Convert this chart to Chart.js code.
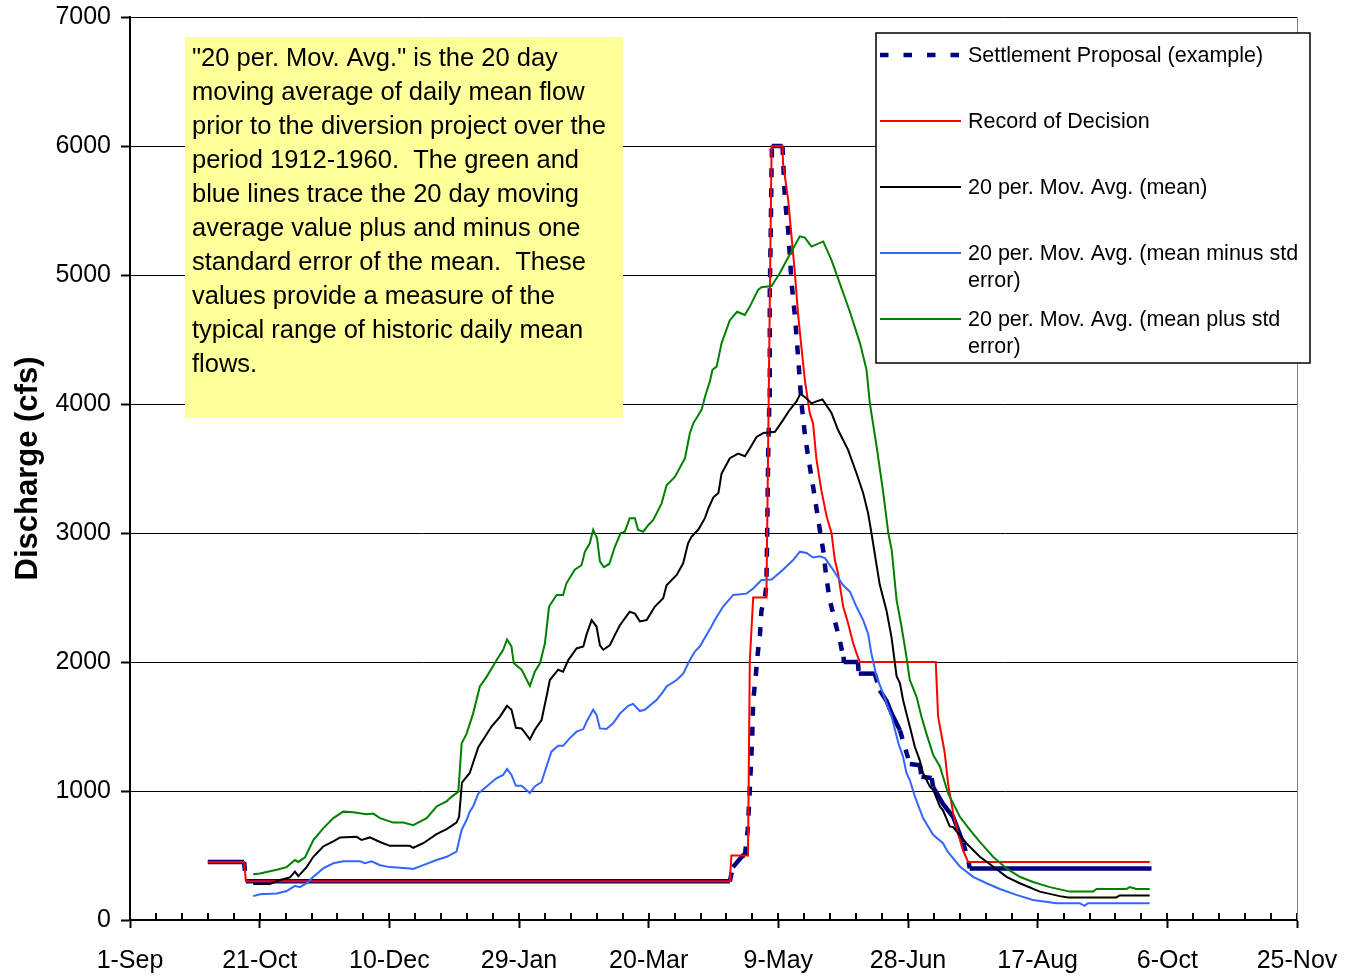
<!DOCTYPE html>
<html lang="en">
<head>
    <meta charset="UTF-8">
    <title>Discharge - 20 day moving average</title>
    <script src="https://cdn.jsdelivr.net/npm/chart.js"></script>
    <style>
        body { margin: 0; background: #fff; }
        #wrap { width: 1345px; height: 977px; }
    </style>
</head>
<body>
    <div id="wrap"><canvas id="flowChart" width="1345" height="977"></canvas></div>

    <script>
        // x = days after 1-Sep, y = discharge in cfs
        const tickLabels = ["1-Sep", "21-Oct", "10-Dec", "29-Jan", "20-Mar", "9-May", "28-Jun", "17-Aug", "6-Oct", "25-Nov"];

        const seriesNames = [
            "Settlement Proposal (example)",
            "Record of Decision",
            "20 per. Mov. Avg. (mean)",
            "20 per. Mov. Avg. (mean minus std error)",
            "20 per. Mov. Avg. (mean plus std error)"
        ];

        const settlement = [
            [30, 450], [44, 450], [44.7, 300], [231.3, 300], [232.5, 410], [236.3, 500], [237.1, 500],
            [238.2, 700], [239.0, 1010], [239.9, 1400], [240.3, 1700], [241.3, 1890], [241.8, 2020],
            [242.9, 2210], [243.5, 2400], [244.9, 2510], [245.4, 2600], [245.7, 3000], [246.1, 3620],
            [246.5, 3980], [246.7, 4870], [247.1, 5360], [247.4, 5870], [247.5, 6000], [251.6, 6000],
            [252.5, 5610], [253.2, 5450], [253.8, 5350], [255.1, 4940], [256.4, 4680], [257.6, 4370],
            [258.9, 4010], [260.2, 3770], [261.5, 3590], [263.4, 3360], [265.4, 3100], [266.6, 2950],
            [267.5, 2840], [268.3, 2690], [269.8, 2480], [271.1, 2380], [272.4, 2270], [273.7, 2170],
            [275.0, 2040], [275.2, 2000], [280.7, 2000], [281.0, 1910], [287.2, 1910], [289.1, 1780],
            [291.7, 1700], [293.7, 1600], [296.9, 1470], [298.8, 1340], [300.7, 1210], [304.6, 1200],
            [305.2, 1110], [309.1, 1100], [309.7, 1030], [313.5, 900], [317.4, 800], [319.3, 700],
            [321.2, 600], [323.2, 470], [323.8, 400], [393.9, 400]
        ];

        const recordOfDecision = [
            [30, 450], [44, 450], [44.7, 300], [231.3, 300], [231.9, 500], [238.3, 500], [239.0, 2010],
            [240.3, 2500], [245.4, 2500], [247.4, 6000], [251.6, 6000], [251.8, 5870], [253.8, 5580],
            [255.1, 5300], [256.4, 5010], [257.6, 4700], [258.9, 4440], [260.2, 4190], [262.1, 3930],
            [263.4, 3850], [264.7, 3570], [266.6, 3330], [268.6, 3130], [270.5, 3000], [271.8, 2790],
            [273.0, 2690], [275.0, 2430], [276.9, 2300], [278.8, 2150], [280.1, 2070], [281.4, 2000],
            [310.7, 2000], [311.6, 1580], [312.3, 1500], [313.5, 1370], [314.2, 1290], [315.5, 1050],
            [317.4, 830], [319.3, 670], [321.2, 540], [323.2, 450], [393.2, 450]
        ];

        const meanFlow = [
            [47.5, 280], [54.0, 280], [57.8, 310], [61.7, 330], [63.6, 375], [64.9, 340], [68.1, 410],
            [70.7, 490], [74.5, 570], [78.4, 610], [81.0, 640], [87.4, 645], [89.3, 620], [92.5, 640],
            [96.4, 605], [100.2, 575], [107.9, 575], [109.2, 560], [113.1, 595], [118.2, 665], [122.1, 705],
            [125.9, 755], [126.9, 800], [128.0, 1065], [131.0, 1140], [134.3, 1340], [136.9, 1420],
            [139.4, 1500], [142.6, 1575], [145.4, 1660], [147.1, 1630], [148.8, 1490], [151.0, 1485],
            [154.2, 1400], [156.1, 1475], [158.7, 1550], [160.6, 1730], [161.9, 1860], [165.1, 1940],
            [167.0, 1925], [169.0, 2015], [172.2, 2105], [174.8, 2120], [176.0, 2210], [178.0, 2325],
            [179.9, 2275], [181.2, 2130], [182.5, 2095], [185.0, 2130], [187.0, 2210], [188.9, 2285],
            [192.7, 2390], [194.7, 2375], [196.6, 2315], [199.2, 2325], [202.4, 2430], [205.6, 2495],
            [206.9, 2595], [210.8, 2675], [213.3, 2765], [215.2, 2920], [216.5, 2970], [219.1, 3025],
            [221.7, 3115], [223.0, 3190], [224.9, 3275], [226.9, 3310], [228.1, 3460], [231.3, 3580],
            [234.5, 3615], [237.1, 3595], [239.0, 3655], [241.6, 3745], [244.2, 3775], [248.7, 3785],
            [251.8, 3875], [254.4, 3955], [257.0, 4020], [258.5, 4080], [260.8, 4045], [262.8, 4005],
            [264.7, 4020], [267.0, 4035], [270.5, 3930], [273.0, 3800], [276.9, 3645], [280.1, 3465],
            [282.7, 3310], [284.6, 3155], [285.9, 3000], [289.1, 2600], [291.7, 2400], [293.7, 2185],
            [295.6, 1890], [296.9, 1835], [298.1, 1705], [299.4, 1600], [300.7, 1500], [302.6, 1345],
            [304.5, 1240], [305.8, 1140], [308.4, 1035], [309.7, 1010], [312.3, 880], [313.5, 850],
            [316.1, 725], [317.4, 720], [322.5, 595], [327.7, 490], [332.8, 415], [338.0, 335],
            [343.1, 285], [350.8, 220], [358.5, 185], [361.7, 175], [380.3, 175], [381.6, 190], [393.2, 190]
        ];

        const meanMinusSE = [
            [47.5, 185], [50.1, 200], [56.6, 205], [60.4, 225], [63.6, 265], [65.5, 255], [68.1, 285],
            [70.7, 335], [74.5, 400], [78.4, 440], [82.2, 455], [88.7, 455], [90.6, 440], [93.2, 455],
            [96.4, 425], [100.2, 410], [107.9, 400], [109.2, 395], [113.1, 425], [118.2, 465], [122.1, 490],
            [125.9, 530], [127.9, 700], [129.8, 775], [131.0, 840], [132.3, 880], [134.3, 980], [137.5, 1035],
            [141.4, 1100], [143.9, 1125], [145.4, 1170], [147.1, 1125], [148.8, 1040], [151.0, 1040],
            [154.2, 985], [156.1, 1035], [158.7, 1070], [160.6, 1190], [162.5, 1305], [165.1, 1350],
            [167.0, 1350], [169.6, 1410], [172.2, 1460], [174.8, 1480], [176.0, 1535], [178.6, 1630],
            [179.9, 1590], [181.2, 1485], [183.7, 1480], [186.3, 1525], [188.9, 1600], [192.1, 1660],
            [194.0, 1675], [196.6, 1620], [198.5, 1630], [203.0, 1705], [205.6, 1770], [206.9, 1810],
            [210.8, 1860], [213.3, 1910], [215.9, 2015], [217.8, 2080], [219.7, 2120], [224.2, 2275],
            [225.5, 2325], [228.7, 2430], [232.6, 2520], [237.7, 2530], [240.3, 2570], [243.5, 2635],
            [247.4, 2640], [251.8, 2715], [255.7, 2790], [258.3, 2855], [260.9, 2845], [263.4, 2810],
            [266.0, 2820], [268.0, 2805], [271.1, 2715], [275.0, 2595], [277.6, 2545], [280.1, 2430],
            [282.7, 2325], [284.6, 2220], [285.9, 2065], [287.9, 1885], [290.4, 1755], [293.7, 1575],
            [296.3, 1370], [298.1, 1265], [299.4, 1140], [300.7, 1085], [302.6, 960], [305.8, 790],
            [309.7, 660], [313.5, 595], [315.3, 530], [320.0, 415], [325.1, 335], [330.3, 285],
            [335.4, 240], [341.8, 195], [348.2, 155], [357.2, 130], [366.2, 130], [368.1, 110],
            [369.4, 130], [393.2, 130]
        ];

        const meanPlusSE = [
            [47.5, 355], [50.1, 360], [56.6, 390], [60.4, 410], [63.6, 465], [64.9, 450], [67.5, 485],
            [70.7, 620], [74.5, 710], [78.4, 790], [82.2, 840], [86.1, 835], [91.2, 820], [93.8, 825],
            [96.4, 790], [101.5, 755], [105.4, 755], [109.2, 735], [114.4, 790], [118.2, 880], [122.1, 920],
            [123.4, 945], [126.6, 995], [127.9, 1370], [129.8, 1445], [132.3, 1600], [134.9, 1810],
            [137.5, 1885], [141.4, 2015], [143.9, 2095], [145.4, 2175], [147.1, 2120], [148.0, 1990],
            [151.0, 1940], [154.2, 1815], [156.1, 1925], [158.1, 1990], [160.0, 2145], [161.6, 2430],
            [164.5, 2520], [167.0, 2520], [168.3, 2610], [171.5, 2715], [174.1, 2750], [175.4, 2855],
            [177.3, 2920], [178.6, 3025], [180.1, 2960], [181.2, 2780], [182.7, 2735], [184.8, 2760],
            [187.0, 2895], [189.2, 3000], [190.8, 3010], [192.7, 3115], [194.7, 3115], [195.9, 3025],
            [197.9, 3010], [199.8, 3060], [201.7, 3100], [205.0, 3230], [206.9, 3370], [210.1, 3435],
            [214.0, 3580], [215.9, 3775], [217.2, 3850], [220.4, 3955], [221.7, 4055], [223.6, 4175],
            [224.6, 4265], [226.2, 4290], [228.1, 4470], [231.3, 4650], [234.1, 4715], [237.1, 4690],
            [239.0, 4755], [242.2, 4885], [243.5, 4905], [247.4, 4915], [250.6, 5015], [253.2, 5115],
            [255.7, 5205], [258.3, 5300], [260.2, 5290], [262.8, 5220], [267.3, 5260], [270.5, 5115],
            [273.7, 4935], [277.6, 4715], [281.5, 4470], [284.0, 4265], [285.3, 4005], [287.9, 3670],
            [290.4, 3320], [292.4, 3000], [293.7, 2870], [295.6, 2480], [297.5, 2275], [299.4, 2040],
            [300.7, 1860], [303.3, 1730], [305.2, 1575], [307.1, 1445], [309.7, 1280], [312.3, 1190],
            [313.5, 1110], [315.5, 980], [320.0, 800], [323.8, 700], [327.7, 605], [332.8, 490],
            [338.0, 400], [343.1, 335], [348.2, 295], [354.7, 255], [362.4, 220], [371.4, 220],
            [372.7, 240], [384.2, 240], [385.5, 255], [388.1, 240], [393.2, 240]
        ];

        const noteLines = [
            "\"20 per. Mov. Avg.\" is the 20 day",
            "moving average of daily mean flow",
            "prior to the diversion project over the",
            "period 1912-1960.  The green and",
            "blue lines trace the 20 day moving",
            "average value plus and minus one",
            "standard error of the mean.  These",
            "values provide a measure of the",
            "typical range of historic daily mean",
            "flows."
        ];

        const FONT = '"Liberation Sans", Arial, sans-serif';
        Chart.defaults.font.family = FONT;
        Chart.defaults.color = "#000";

        const toPoints = (arr) => arr.map(p => ({ x: p[0], y: p[1] }));

        // yellow note box, drawn over the gridlines
        const noteBox = {
            id: "noteBox",
            beforeDatasetsDraw(chart) {
                const ctx = chart.ctx;
                ctx.save();
                ctx.fillStyle = "#ffff99";
                ctx.fillRect(185, 37, 438, 381);
                ctx.fillStyle = "#000";
                ctx.font = "25.5px " + FONT;
                ctx.textBaseline = "middle";
                noteLines.forEach((line, i) => ctx.fillText(line, 192, 59 + i * 34));
                ctx.restore();
            }
        };

        // minor ticks every 10 days + grey frame on the right
        const axisExtras = {
            id: "axisExtras",
            afterDatasetsDraw(chart) {
                const { ctx, chartArea, scales } = chart;
                const x = scales.x;
                ctx.save();
                ctx.strokeStyle = "#000";
                ctx.lineWidth = 2;
                ctx.beginPath();
                for (let d = 0; d <= 450; d += 10) {
                    const px = Math.round(x.getPixelForValue(d));
                    ctx.moveTo(px, chartArea.bottom);
                    ctx.lineTo(px, chartArea.bottom - 7);
                }
                ctx.stroke();
                ctx.strokeStyle = "#808080";
                ctx.lineWidth = 1;
                ctx.beginPath();
                ctx.moveTo(Math.round(chartArea.right) + 0.5, chartArea.top);
                ctx.lineTo(Math.round(chartArea.right) + 0.5, chartArea.bottom);
                ctx.stroke();
                ctx.restore();
            }
        };

        // boxed legend in the upper right
        const boxLegend = {
            id: "boxLegend",
            afterDraw(chart) {
                const ctx = chart.ctx;
                const left = 876, top = 33, width = 434, height = 330;
                ctx.save();
                ctx.fillStyle = "#fff";
                ctx.fillRect(left, top, width, height);
                ctx.strokeStyle = "#000";
                ctx.lineWidth = 1.5;
                ctx.strokeRect(left, top, width, height);

                ctx.font = "21.5px " + FONT;
                ctx.textBaseline = "middle";
                chart.data.datasets.forEach((ds, i) => {
                    const y = 55 + i * 66;
                    ctx.strokeStyle = ds.borderColor;
                    ctx.lineWidth = ds.borderWidth;
                    ctx.setLineDash(ds.legendDash || []);
                    ctx.beginPath();
                    ctx.moveTo(880, y);
                    ctx.lineTo(961, y);
                    ctx.stroke();
                    ctx.setLineDash([]);

                    // word wrap the label
                    const words = ds.label.split(" ");
                    const lines = [];
                    let cur = "";
                    words.forEach(w => {
                        const test = cur ? cur + " " + w : w;
                        if (ctx.measureText(test).width > 338 && cur) {
                            lines.push(cur);
                            cur = w;
                        } else {
                            cur = test;
                        }
                    });
                    lines.push(cur);
                    ctx.fillStyle = "#000";
                    lines.forEach((ln, j) => ctx.fillText(ln, 968, y + 1 + j * 27));
                });
                ctx.restore();
            }
        };

        const steepDash = (ctx) => {
            const dx = ctx.p1.x - ctx.p0.x;
            const dy = ctx.p1.y - ctx.p0.y;
            return Math.abs(dy) > 3 * Math.abs(dx) ? [9, 11] : undefined;
        };

        new Chart(document.getElementById("flowChart"), {
            type: "line",
            data: {
                datasets: [
                    {
                        label: seriesNames[0],
                        data: toPoints(settlement),
                        borderColor: "#000080",
                        borderWidth: 4.5,
                        borderDash: [],
                        legendDash: [8.5, 15],
                        segment: { borderDash: steepDash },
                        order: 5
                    },
                    {
                        label: seriesNames[1],
                        data: toPoints(recordOfDecision),
                        borderColor: "#ff0000",
                        borderWidth: 2,
                        order: 4
                    },
                    {
                        label: seriesNames[2],
                        data: toPoints(meanFlow),
                        borderColor: "#000000",
                        borderWidth: 2,
                        order: 3
                    },
                    {
                        label: seriesNames[3],
                        data: toPoints(meanMinusSE),
                        borderColor: "#3366ff",
                        borderWidth: 2,
                        order: 2
                    },
                    {
                        label: seriesNames[4],
                        data: toPoints(meanPlusSE),
                        borderColor: "#008000",
                        borderWidth: 2,
                        order: 1
                    }
                ]
            },
            options: {
                responsive: false,
                animation: false,
                events: [],
                elements: {
                    point: { radius: 0 },
                    line: { tension: 0, borderJoinStyle: "miter" }
                },
                layout: { padding: { top: 17, right: 48, left: 0, bottom: 0 } },
                plugins: {
                    legend: { display: false },
                    tooltip: { enabled: false }
                },
                scales: {
                    x: {
                        type: "linear",
                        min: 0,
                        max: 450,
                        afterFit: (scale) => {
                            scale.height = 57;
                            scale.paddingLeft = 0;
                            scale.paddingRight = 0;
                        },
                        grid: {
                            drawOnChartArea: false,
                            color: "#000",
                            tickLength: 8,
                            tickWidth: 2
                        },
                        border: { color: "#000", width: 2 },
                        ticks: {
                            stepSize: 50,
                            autoSkip: false,
                            maxRotation: 0,
                            padding: 18,
                            font: { size: 25 },
                            callback: (value) => tickLabels[Math.round(value / 50)]
                        }
                    },
                    y: {
                        min: 0,
                        max: 7000,
                        afterFit: (scale) => {
                            scale.width = 130;
                            scale.paddingTop = 0;
                            scale.paddingBottom = 0;
                        },
                        grid: {
                            color: "#000",
                            lineWidth: 1,
                            tickLength: 9,
                            tickWidth: 2
                        },
                        border: { color: "#000", width: 2 },
                        ticks: {
                            stepSize: 1000,
                            padding: 10,
                            font: { size: 25 },
                            callback: (value) => String(value)
                        },
                        title: {
                            display: true,
                            text: "Discharge (cfs)",
                            font: { size: 31, weight: "bold" },
                            padding: { top: 10, bottom: 0 }
                        }
                    }
                }
            },
            plugins: [noteBox, axisExtras, boxLegend]
        });
    </script>
</body>
</html>
